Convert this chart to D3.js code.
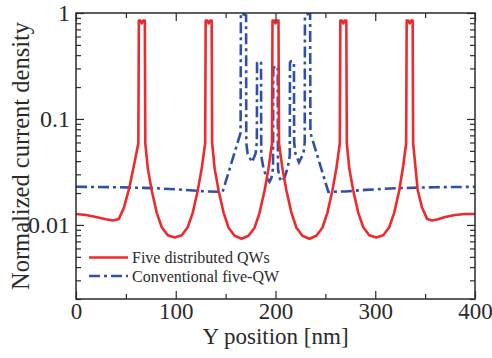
<!DOCTYPE html>
<html><head><meta charset="utf-8">
<script src="https://cdn.jsdelivr.net/npm/d3@7"></script>
<style>
html,body{margin:0;padding:0;background:#fff;}
svg{display:block;}
text{font-family:"Liberation Serif","Times New Roman",serif;fill:#2a2a2a;}
</style></head><body>
<svg id="chart" width="492" height="358"></svg>
<script>
// ---- data ----
const xTicks = [0, 100, 200, 300, 400];
const yTicks = [1, 0.1, 0.01];
const yTickLabels = ["1", "0.1", "0.01"];
const seriesNames = ["Five distributed QWs", "Conventional five-QW"];

// Five distributed QWs (position nm, normalized current density)
const redX = [0,10,20,30,37,43,48,53,58,62.5,63,64.5,66,67.5,69,69.5,72,76,81,86,92,99,106,112,117,122,126,129.5,
  130,131.5,133,134.5,136,136.5,139,143,148,153,159,166,173,179,184,189,193,196.5,
  197,198.5,200,201.5,203,203.5,207,211,216,221,227,234,241,247,252,257,261,264.5,
  265,266.5,268,269.5,271,271.5,274,278,283,288,294,301,308,314,319,324,328,331,
  331.5,333,334.5,336,337.5,338,342.5,347,352,357,363,370,380,390,400];
const redY = [0.0127,0.0124,0.0119,0.0113,0.0110,0.0114,0.0145,0.0215,0.036,0.059,0.85,0.85,0.80,0.85,0.85,0.059,0.034,0.021,0.013,0.0095,0.0080,0.0076,0.0080,0.0095,0.013,0.021,0.034,0.059,
  0.85,0.85,0.80,0.85,0.85,0.059,0.034,0.021,0.013,0.0094,0.0079,0.0074,0.0079,0.0094,0.013,0.021,0.034,0.059,
  0.85,0.85,0.80,0.85,0.85,0.059,0.034,0.021,0.013,0.0094,0.0079,0.0074,0.0079,0.0094,0.013,0.021,0.034,0.059,
  0.85,0.85,0.80,0.85,0.85,0.059,0.034,0.021,0.013,0.0095,0.0080,0.0076,0.0080,0.0095,0.013,0.021,0.036,0.059,
  0.85,0.85,0.80,0.85,0.85,0.059,0.0215,0.0145,0.0114,0.0110,0.0113,0.0119,0.0124,0.0127,0.0127];

// Conventional five-QW
const blueX = [0,40,80,110,130,147,165,165.3,170.5,170.7,172,176.5,180,181.3,181.5,182.5,184.5,185.5,185.7,188,191,194,196,197.5,
  197.8,200,202.2,202.5,204,206,209,212,214.3,214.5,215.5,217.5,218.5,218.7,220,223.5,228,229.3,229.5,234.7,235,253,270,290,320,360,400];
const blueY = [0.0229,0.0227,0.0222,0.0214,0.0207,0.0205,0.074,1.0,0.95,0.06,0.047,0.039,0.047,0.06,0.34,0.35,0.35,0.34,0.045,0.034,0.028,0.0256,0.028,0.034,
  0.30,0.32,0.30,0.034,0.028,0.0256,0.028,0.034,0.045,0.34,0.35,0.35,0.34,0.06,0.047,0.039,0.047,0.06,0.95,1.0,0.074,0.0205,0.0207,0.0214,0.0222,0.0227,0.0229];

// ---- layout ----
const L = 76, R = 475, T = 13, B = 299;
const svg = d3.select("#chart");
const x = d3.scaleLinear().domain([0, 400]).range([L, R]);
const y = d3.scaleLog().domain([0.002, 1]).range([B, T]);

svg.append("defs").append("clipPath").attr("id","clip")
  .append("rect").attr("x", L).attr("y", T).attr("width", R - L).attr("height", B - T);

const line = d3.line().x(d => x(d[0])).y(d => y(d[1]));
const blueData = blueX.map((v,i) => [v, blueY[i]]);
const redData = redX.map((v,i) => [v, redY[i]]);

const g = svg.append("g").attr("clip-path","url(#clip)");
g.append("path").datum(blueData).attr("d", line).attr("fill","none")
  .attr("stroke","#2f4fa8").attr("stroke-width",2.6).attr("stroke-dasharray","11,4,3,4");
g.append("path").datum(redData).attr("d", line).attr("fill","none")
  .attr("stroke","#ee2a2e").attr("stroke-width",2.6).attr("stroke-linejoin","round");

// ---- axes (ticks inside on all four sides) ----
const minorX = d3.range(50, 400, 100);
const minorY = [];
[0.001, 0.01, 0.1].forEach(d => { for (let k = 2; k <= 9; k++) { const v = d*k; if (v >= 0.002 && v < 1) minorY.push(v); } });

const axCol = "#2a2a2a";
function styleAxis(sel){
  sel.select(".domain").remove();
  sel.selectAll("line").attr("stroke", axCol).attr("stroke-width", 1.2);
}
// bottom
svg.append("g").attr("transform",`translate(0,${B})`)
  .call(d3.axisBottom(x).tickValues(xTicks).tickSize(-8).tickPadding(4).tickFormat(d3.format("d")))
  .call(styleAxis).call(s => s.selectAll("text").attr("font-size",23).attr("font-family","Liberation Serif"));
svg.append("g").attr("transform",`translate(0,${B})`)
  .call(d3.axisBottom(x).tickValues(minorX).tickSize(-5).tickFormat(""))
  .call(styleAxis);
// top
svg.append("g").attr("transform",`translate(0,${T})`)
  .call(d3.axisTop(x).tickValues(xTicks).tickSize(-8).tickFormat(""))
  .call(styleAxis);
svg.append("g").attr("transform",`translate(0,${T})`)
  .call(d3.axisTop(x).tickValues(minorX).tickSize(-5).tickFormat(""))
  .call(styleAxis);
// left
svg.append("g").attr("transform",`translate(${L},0)`)
  .call(d3.axisLeft(y).tickValues(yTicks).tickSize(-8).tickPadding(6).tickFormat((d,i) => yTickLabels[i]))
  .call(styleAxis).call(s => s.selectAll("text").attr("font-size",24).attr("font-family","Liberation Serif"));
svg.append("g").attr("transform",`translate(${L},0)`)
  .call(d3.axisLeft(y).tickValues(minorY).tickSize(-5).tickFormat(""))
  .call(styleAxis);
// right
svg.append("g").attr("transform",`translate(${R},0)`)
  .call(d3.axisRight(y).tickValues(yTicks).tickSize(-8).tickFormat(""))
  .call(styleAxis);
svg.append("g").attr("transform",`translate(${R},0)`)
  .call(d3.axisRight(y).tickValues(minorY).tickSize(-5).tickFormat(""))
  .call(styleAxis);

// frame
svg.append("rect").attr("x",L).attr("y",T).attr("width",R-L).attr("height",B-T)
  .attr("fill","none").attr("stroke",axCol).attr("stroke-width",1.5);

// titles
svg.append("text").attr("x", (L+R)/2).attr("y", 344).attr("text-anchor","middle")
  .attr("font-size",23).text("Y position [nm]");
svg.append("text").attr("transform",`translate(29,${(T+B)/2}) rotate(-90)`).attr("text-anchor","middle")
  .attr("font-size",24.5).text("Normalized current density");

// legend
const leg = svg.append("g");
const legStyles = [{c:"#ee2a2e", dash:null}, {c:"#2f4fa8", dash:"11,4,3,4"}];
seriesNames.forEach((name, i) => {
  const base = 263 + i*18.5;
  leg.append("line").attr("x1",89).attr("x2",128).attr("y1",base-5.5).attr("y2",base-5.5)
    .attr("stroke",legStyles[i].c).attr("stroke-width",2.6)
    .attr("stroke-dasharray",legStyles[i].dash);
  leg.append("text").attr("x",132).attr("y",base).attr("font-size",16).text(name);
});
</script>
</body></html>
